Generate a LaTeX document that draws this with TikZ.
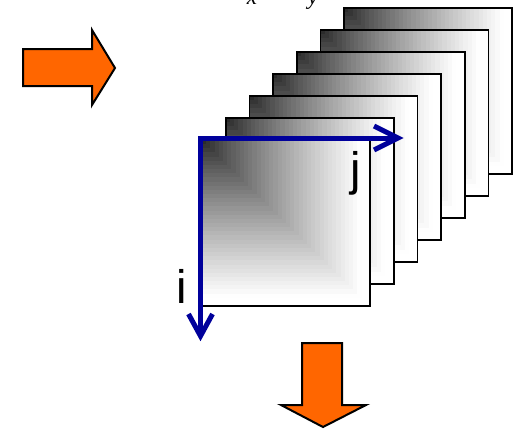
\documentclass[tikz,border=0pt]{standalone}
\usepackage{fontspec}
\setmainfont{Liberation Serif}
\newfontfamily\axisfont{Liberation Sans}
\definecolor{arroworange}{HTML}{FF6600}
\definecolor{axisblue}{RGB}{0,0,155}
\tikzset{
  blockarrow/.style={fill=arroworange, draw=black, line width=2, line join=miter},
  framebox/.style={draw=black, line width=1.6},
  axisline/.style={draw=axisblue, line width=5, line join=miter},
  axislabel/.style={font=\axisfont\fontsize{47}{47}\selectfont, inner sep=0, anchor=base},
  toplabel/.style={font=\fontsize{23}{23}\selectfont\itshape, inner sep=0, anchor=base}
}
\begin{document}
\begin{tikzpicture}[x=1pt, y=-1pt]
\useasboundingbox (0,0) rectangle (519,429);

% italic variable names at the top edge
\begin{scope}
  \clip (0,0) rectangle (519,429);
  \node[toplabel] (varx) at (252,4) {x};
  \node[toplabel] (vary) at (313,4) {y};
\end{scope}

% stack of image frames, back to front; each filled with a stepped
% gradient that darkens toward its top-left corner
\foreach \k in {6,5,...,0} {
  \pgfmathsetmacro\fx{202+23.7*\k}
  \pgfmathsetmacro\fy{140-22*\k}
  \foreach \s in {40,39,...,1} {
    \pgfmathsetmacro\g{min(1,0.14+0.9*((\s-0.5)/40)^0.8)}
    \definecolor{stepgray}{gray}{\g}
    \fill[stepgray] (\fx,\fy) rectangle ++(168*\s/40,166*\s/40);
  }
  \draw[framebox] (\fx,\fy) rectangle ++(168,166);
}

% index axes
\coordinate (orig) at (200.5,138);
\coordinate (jtip) at (398,138);
\coordinate (itip) at (200.5,336);
\draw[axisline] (jtip) -- (orig) -- (itip);
\draw[axisline] ([shift={(-24,-12)}]jtip) -- (jtip) -- ([shift={(-24,12)}]jtip);
\draw[axisline] ([shift={(-12,-22)}]itip) -- (itip) -- ([shift={(12,-22)}]itip);
\node[axislabel] (jlab) at (356,185) {j};
\node[axislabel] (ilab) at (182,303) {i};

% orange block arrows
\draw[blockarrow] (23,49) -- (92,49) -- (92,30) -- (115,68) -- (92,105)
  -- (92,86) -- (23,86) -- cycle;
\draw[blockarrow] (302,343) -- (342,343) -- (342,405) -- (366,405)
  -- (323,427) -- (281,405) -- (302,405) -- cycle;
\end{tikzpicture}
\end{document}
